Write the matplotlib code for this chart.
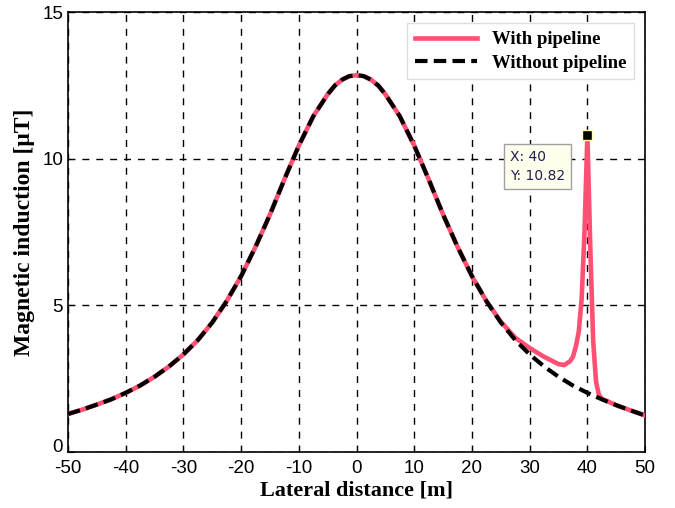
import numpy as np
import matplotlib.pyplot as plt
import matplotlib.transforms as mtransforms

plt.rcParams['axes.unicode_minus'] = False

# lateral distance [m] and induction without pipeline [uT]
x_base = [-50, -47.5, -45, -42.5, -40, -37.5, -35, -32.5, -30, -27.5, -25, -22.5,
          -20, -17.5, -15, -12.5, -10, -7.5, -5, -3.75, -2.5, -1.25, 0, 1.25, 2.5, 3.75, 5, 7.5, 10, 12.5,
          15, 17.5, 20, 22.5, 25, 27.5, 30, 32.5, 35, 37.5, 40, 42.5, 45, 47.5, 50]
b_base = [1.30, 1.45, 1.62, 1.80, 2.02, 2.27, 2.57, 2.92, 3.33, 3.82, 4.42, 5.15,
          6.00, 7.00, 8.10, 9.30, 10.45, 11.45, 12.20, 12.50, 12.70, 12.82, 12.85, 12.82, 12.70, 12.50, 12.20,
          11.45, 10.45, 9.30, 8.10, 7.00, 6.00, 5.15, 4.42, 3.82, 3.33, 2.92, 2.57, 2.27, 2.02, 1.80, 1.60,
          1.42, 1.25]

# with pipeline (same as base until ~28 m, then the spike at 40 m)
x_pipe = [-50, -47.5, -45, -42.5, -40, -37.5, -35, -32.5, -30, -27.5, -25, -22.5,
          -20, -17.5, -15, -12.5, -10, -7.5, -5, -3.75, -2.5, -1.25, 0, 1.25, 2.5, 3.75, 5, 7.5, 10, 12.5,
          15, 17.5, 20, 22.5, 25, 27.5, 30, 32.5, 35, 36, 37, 37.5, 38, 38.5, 39, 39.5,
          40, 40.5, 41, 41.5, 42, 42.5, 45, 47.5, 50]
b_pipe = [1.30, 1.45, 1.62, 1.80, 2.02, 2.27, 2.57, 2.92, 3.33, 3.82, 4.42, 5.15,
          6.00, 7.00, 8.10, 9.30, 10.45, 11.45, 12.20, 12.50, 12.70, 12.82, 12.85, 12.82, 12.70, 12.50, 12.20,
          11.45, 10.45, 9.30, 8.10, 7.00, 6.00, 5.15, 4.45, 3.90, 3.55, 3.25, 3.00, 2.97, 3.10, 3.25, 3.60,
          4.10, 5.20, 7.50, 10.82, 7.00, 3.80, 2.40, 1.95, 1.82, 1.60, 1.42, 1.25]

tip_x, tip_y = 40, 10.82

fig = plt.figure(figsize=(6.75, 5.08), dpi=100)
ax = fig.add_axes([0.1007, 0.110, 0.855, 0.866])

ax.plot(x_pipe, b_pipe, color='#FF4F72', lw=3.3, label='With pipeline', zorder=3)
ax.plot(x_base, b_base, color='black', lw=3, ls=(0, (3, 1.5)), label='Without pipeline', zorder=4)
ax.plot(tip_x, tip_y, 's', ms=7, mfc='black', mec='#FFFFB0', mew=1, zorder=5)
ax.text(26.6, 10.3, 'X: 40\nY: 10.82', fontsize=10, va='top', ha='left',
        family='DejaVu Sans', color='#202050', linespacing=1.45,
        bbox=dict(boxstyle='square,pad=0.45', fc='#FFFFEE', ec='#A0A0A0', lw=1), zorder=6)

ax.set_xlim(-50, 50)
ax.set_ylim(0, 15)
ax.set_xticks(np.arange(-50, 51, 10))
ax.set_yticks([0, 5, 10, 15])
ax.grid(True, color='black', ls=(0, (5, 5)), lw=1)
ax.tick_params(direction='in', labelsize=13.5, length=4)
ax.tick_params(axis='x', pad=6)
for lab in ax.get_xticklabels() + ax.get_yticklabels():
    lab.set_family('Liberation Sans')
# lift the "0" a little, as in the original, so it sits above "-50"
ylab0 = ax.get_yticklabels()[0]
ylab0.set_transform(ylab0.get_transform() + mtransforms.ScaledTranslation(0, 5 / 72, fig.dpi_scale_trans))
for sp in ax.spines.values():
    sp.set_linewidth(1.2)

ax.set_xlabel('Lateral distance [m]', family='Liberation Serif', fontweight='bold', fontsize=16, labelpad=2)
ax.set_ylabel('Magnetic induction [μT]', family='Liberation Serif', fontweight='bold', fontsize=17, labelpad=5)

leg = ax.legend(loc='upper right', prop={'family': 'Liberation Serif', 'weight': 'bold', 'size': 13.5},
                handlelength=3.3, fancybox=False, framealpha=1, borderaxespad=0.6, labelspacing=0.35)
leg.get_frame().set_edgecolor('#DDDDDD')

fig.savefig('out.png', dpi=100)
